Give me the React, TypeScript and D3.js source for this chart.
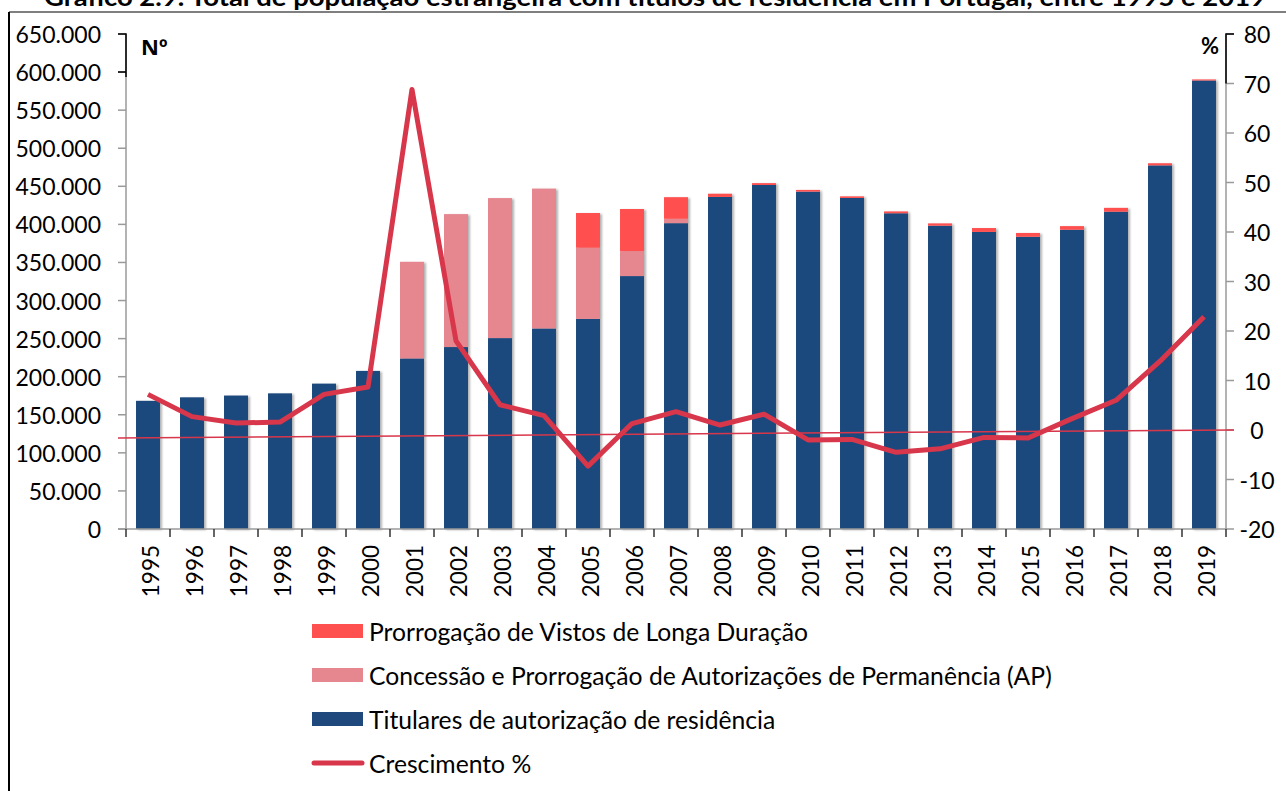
import React from 'react';
import * as d3 from 'd3';

// Gráfico 2.9 - população estrangeira com títulos de residência, 1995-2019
const years = ['1995','1996','1997','1998','1999','2000','2001','2002','2003','2004','2005','2006','2007','2008','2009','2010','2011','2012','2013','2014','2015','2016','2017','2018','2019'];

const titulares = [168316,172912,175263,178137,190896,207587,223976,238929,250697,263353,275906,332137,401612,436020,451742,443055,434708,414610,398268,390113,383759,392969,416682,477472,588976];
const autorizacoesPermanencia = [0,0,0,0,0,0,126901,174558,183833,183655,93391,32661,5741,0,0,0,0,0,0,0,0,0,0,0,0];
const vistosLongaDuracao = [0,0,0,0,0,0,0,0,0,0,45637,55391,28383,4257,2449,2207,2114,2432,3052,5082,4972,4762,5029,2828,1372];
const crescimento = [7.2,2.7,1.4,1.6,7.2,8.7,68.8,18.0,5.1,2.9,-7.3,1.3,3.7,1.0,3.2,-2.0,-1.9,-4.5,-3.8,-1.5,-1.6,2.3,6.0,13.9,22.9];

// thin reference line drawn across the plot, in % (left end, right end)
const linhaRef = [-1.6, 0];

const leftTicks = [0,50000,100000,150000,200000,250000,300000,350000,400000,450000,500000,550000,600000,650000];
const rightTicks = [-20,-10,0,10,20,30,40,50,60,70,80];

const seriesNames = ['Titulares de autorização de residência','Concessão e Prorrogação de Autorizações de Permanência (AP)','Prorrogação de Vistos de Longa Duração'];
const seriesColors = ['#1F497D','#E6868F','#FF5050'];
const lineName = 'Crescimento %';
const lineColor = '#D8364A';

const title = 'Gráfico 2.9. Total de população estrangeira com títulos de residência em Portugal, entre 1995 e 2019';

const font = "Lato, 'Open Sans', sans-serif";

const fmt = d3.formatLocale({decimal: ',', thousands: '.', grouping: [3], currency: ['', '']}).format(',');

export default function App() {
  const left = 126, right = 1226, top = 34, bottom = 529;

  const x = d3.scaleBand<string>().domain(years).range([left, right]).paddingInner(0.455).paddingOuter(0.2275);
  const step = x.step();
  const yL = d3.scaleLinear().domain([0, 650000]).range([bottom, top]);
  const yR = d3.scaleLinear().domain([-20, 80]).range([bottom, top]);

  const table = years.map((year, i) => ({
    year,
    titulares: titulares[i],
    ap: autorizacoesPermanencia[i],
    pvld: vistosLongaDuracao[i],
  }));
  const stack = d3.stack<any>().keys(['titulares', 'ap', 'pvld'])(table);

  const line = d3.line<number>()
    .x((_, i) => (x(years[i]) as number) + x.bandwidth() / 2)
    .y(d => yR(d));

  const legendRows = [
    {name: seriesNames[2], color: seriesColors[2]},
    {name: seriesNames[1], color: seriesColors[1]},
    {name: seriesNames[0], color: seriesColors[0]},
  ];

  return (
    <div style={{position: 'absolute', left: 0, top: 0}}>
      <svg width={1286} height={791} style={{display: 'block', fontFamily: font}}>
        <defs>
          <filter id="sh" x="-20%" y="-5%" width="150%" height="110%">
            <feDropShadow dx="2" dy="1" stdDeviation="1.2" floodColor="#000" floodOpacity="0.3" />
          </filter>
        </defs>
        <rect width={1286} height={791} fill="#fff" />

        {/* title, cut at the top of the picture as in the source */}
        <text x={655} y={6} textAnchor="middle" fontWeight="bold" fontSize={24} textLength={1222} lengthAdjust="spacingAndGlyphs">{title}</text>

        {/* frame */}
        <line x1={9} x2={1286} y1={12} y2={12} stroke="#555" strokeWidth={1.5} />
        <line x1={9} x2={9} y1={12} y2={791} stroke="#000" strokeWidth={2} />

        {/* bars */}
        {years.map((year, i) => (
          <g key={year} filter="url(#sh)">
            {stack.map((s, k) => {
              const d = s[i];
              if (d[1] - d[0] <= 0) return null;
              return <rect key={k} x={x(year)} width={x.bandwidth()} y={yL(d[1])} height={yL(d[0]) - yL(d[1])} fill={seriesColors[k]} />;
            })}
          </g>
        ))}

        {/* left axis */}
        <line x1={left} x2={left} y1={top} y2={bottom} stroke="#9a9a9a" strokeWidth={1.5} />
        {leftTicks.map(t => (
          <g key={t}>
            <line x1={left - 8} x2={left} y1={yL(t)} y2={yL(t)} stroke="#9a9a9a" strokeWidth={1.5} />
            <text x={101} y={yL(t)} textAnchor="end" dominantBaseline="central" fontSize={23}>{fmt(t)}</text>
          </g>
        ))}
        <path d={`M${left - 8},${yL(650000)}H${left}V${yL(600000) + 5}M${left - 8},${yL(600000)}H${left}`} fill="none" stroke="#000" strokeWidth={1.5} />
        <text x={141} y={46} fontWeight="bold" fontSize={22} dominantBaseline="central" fontFamily="'Open Sans', sans-serif">Nº</text>

        {/* right axis */}
        <line x1={right} x2={right} y1={top} y2={bottom} stroke="#9a9a9a" strokeWidth={1.5} />
        {rightTicks.map(t => (
          <g key={t}>
            <line x1={right} x2={right + 8} y1={yR(t)} y2={yR(t)} stroke="#9a9a9a" strokeWidth={1.5} />
            <text x={1257} y={yR(t)} textAnchor="middle" dominantBaseline="central" fontSize={23}>{t}</text>
          </g>
        ))}
        <path d={`M${right + 8},${yR(80)}H${right}V${yR(70)}`} fill="none" stroke="#000" strokeWidth={1.5} />
        <text x={1219} y={45} textAnchor="end" fontWeight="bold" fontSize={22} dominantBaseline="central">%</text>

        {/* category axis */}
        <line x1={left - 8} x2={right} y1={bottom} y2={bottom} stroke="#9a9a9a" strokeWidth={1.5} />
        {d3.range(years.length + 1).map(k => (
          <line key={k} x1={left + k * step} x2={left + k * step} y1={bottom} y2={bottom + 8} stroke="#333" strokeWidth={1.5} />
        ))}
        {years.map(year => {
          const cx = (x(year) as number) + x.bandwidth() / 2 + 2;
          return (
            <text key={year} transform={`translate(${cx},545) rotate(-90)`} textAnchor="end" dominantBaseline="central" fontSize={22.5}>{year}</text>
          );
        })}

        {/* thin reference line and growth line */}
        <line x1={left - 8} x2={right + 8} y1={yR(linhaRef[0])} y2={yR(linhaRef[1])} stroke={lineColor} strokeWidth={1.5} />
        <path d={line(crescimento) || ''} fill="none" stroke={lineColor} strokeWidth={5} strokeLinejoin="round" />

        {/* legend */}
        {legendRows.map((r, i) => (
          <g key={r.name} transform={`translate(312,${631 + i * 44})`}>
            <rect x={0} y={-7} width={51} height={14} fill={r.color} />
            <text x={57} y={0} dominantBaseline="central" fontSize={24.7}>{r.name}</text>
          </g>
        ))}
        <g transform="translate(312,763)">
          <line x1={2} x2={50} y1={0} y2={0} stroke={lineColor} strokeWidth={5} strokeLinecap="round" />
          <text x={57} y={0} dominantBaseline="central" fontSize={24.7}>{lineName}</text>
        </g>
      </svg>
    </div>
  );
}
